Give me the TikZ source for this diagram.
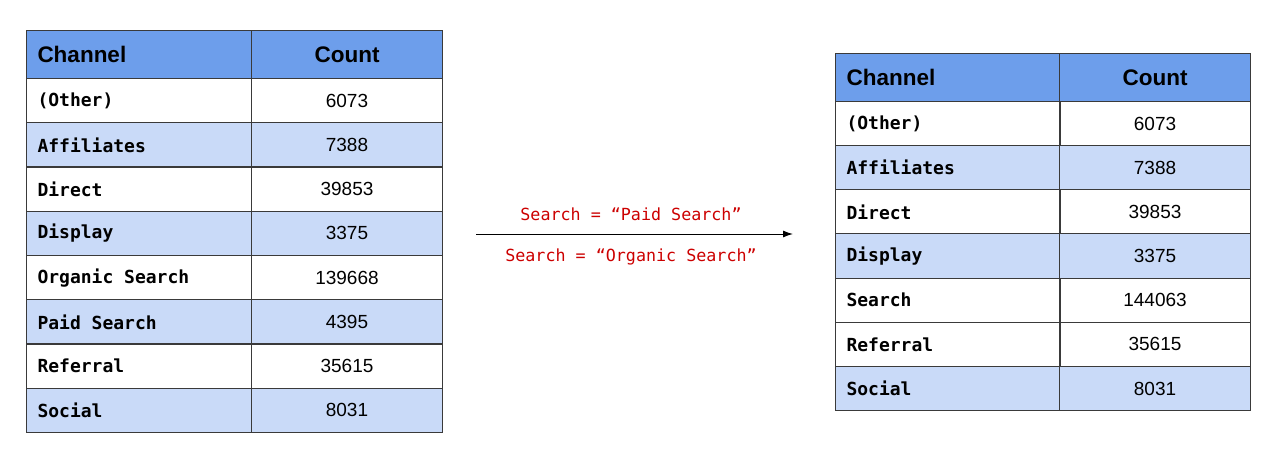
\documentclass[tikz,border=0pt]{standalone}
\usepackage{fontspec}
\setmainfont{Liberation Sans}
\newfontfamily\codefont{DejaVu Sans Mono}
\usetikzlibrary{arrows.meta}
\definecolor{hdrblue}{HTML}{6D9EEB}
\definecolor{liteblue}{HTML}{C9DAF8}
\definecolor{gridgray}{HTML}{3A3A3A}
\definecolor{rulered}{HTML}{CC0000}
\tikzset{
  cell/.style={draw=gridgray, line width=1pt, inner sep=0pt, anchor=north west, minimum height=44.2pt},
  namecell/.style={cell, minimum width=225pt, text width=203pt, inner xsep=11pt, align=left,
    font=\codefont\bfseries\fontsize{18}{20}\selectfont, execute at begin node={\spaceskip=0.602em\relax}},
  numcell/.style={cell, minimum width=191pt, align=center, font=\fontsize{19}{22}\selectfont},
  hdr/.style={fill=hdrblue, minimum height=48pt, font=\bfseries\fontsize{22.5}{26}\selectfont},
  alt/.style={fill=liteblue},
  rule/.style={text=rulered, font=\codefont\fontsize{16.7}{20}\selectfont}
}

\begin{document}
\begin{tikzpicture}[x=1pt, y=-1pt]
\useasboundingbox (0, 0) rectangle (1273, 460);
% left table
\node[namecell, hdr, font=\bfseries\fontsize{22.5}{26}\selectfont] (lh1) at (26, 30) {Channel};
\node[numcell, hdr] (lh2) at (251, 30) {Count};
\node[namecell] (la1) at (26, 78) {(Other)};
\node[numcell] (lb1) at (251, 78) {6073};
\node[namecell, alt] (la2) at (26, 122.25) {Affiliates};
\node[numcell, alt] (lb2) at (251, 122.25) {7388};
\node[namecell] (la3) at (26, 166.5) {Direct};
\node[numcell] (lb3) at (251, 166.5) {39853};
\node[namecell, alt] (la4) at (26, 210.75) {Display};
\node[numcell, alt] (lb4) at (251, 210.75) {3375};
\node[namecell] (la5) at (26, 255) {Organic Search};
\node[numcell] (lb5) at (251, 255) {139668};
\node[namecell, alt] (la6) at (26, 299.25) {Paid Search};
\node[numcell, alt] (lb6) at (251, 299.25) {4395};
\node[namecell] (la7) at (26, 343.5) {Referral};
\node[numcell] (lb7) at (251, 343.5) {35615};
\node[namecell, alt] (la8) at (26, 387.75) {Social};
\node[numcell, alt] (lb8) at (251, 387.75) {8031};
% right table
\node[namecell, hdr, font=\bfseries\fontsize{22.5}{26}\selectfont] (rh1) at (835, 53) {Channel};
\node[numcell, hdr] (rh2) at (1059, 53) {Count};
\node[namecell] (ra1) at (835, 101) {(Other)};
\node[numcell] (rb1) at (1059, 101) {6073};
\node[namecell, alt] (ra2) at (835, 145.15) {Affiliates};
\node[numcell, alt] (rb2) at (1059, 145.15) {7388};
\node[namecell] (ra3) at (835, 189.3) {Direct};
\node[numcell] (rb3) at (1059, 189.3) {39853};
\node[namecell, alt] (ra4) at (835, 233.45) {Display};
\node[numcell, alt] (rb4) at (1059, 233.45) {3375};
\node[namecell] (ra5) at (835, 277.6) {Search};
\node[numcell] (rb5) at (1059, 277.6) {144063};
\node[namecell] (ra6) at (835, 321.75) {Referral};
\node[numcell] (rb6) at (1059, 321.75) {35615};
\node[namecell, alt] (ra7) at (835, 365.9) {Social};
\node[numcell, alt] (rb7) at (1059, 365.9) {8031};
% merge arrow
\coordinate (from) at (476, 234);
\coordinate (to) at (793, 234);
\draw[-{Latex[length=10pt, width=7pt]}, line width=1pt] (from) -- (to);
\node[rule] (paid) at (631, 214) {Search = “Paid Search”};
\node[rule] (organic) at (631, 257) {Search = “Organic Search”};
\end{tikzpicture}
\end{document}
